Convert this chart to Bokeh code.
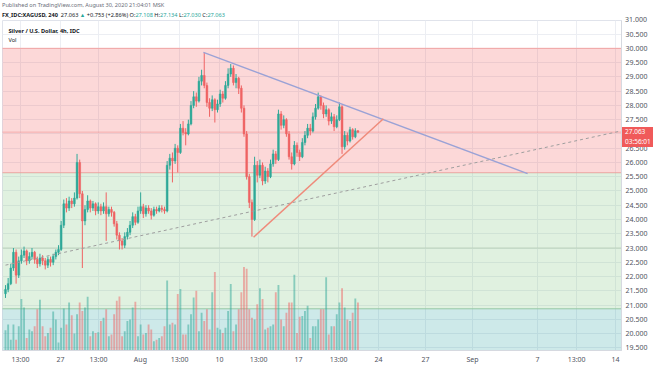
from bokeh.plotting import figure
from bokeh.models import Range1d, FixedTicker, NumeralTickFormatter, Label, ColumnDataSource, Div
from bokeh.layouts import column
from bokeh.embed import file_html
from bokeh.resources import INLINE

# ---------------- data (4h candles, XAGUSD) ----------------
first_open = 21.40
closes = [21.55, 21.75, 22.30, 22.85, 22.05, 22.55, 22.75, 22.90, 22.55, 22.70,
          22.85, 22.60, 22.45, 22.65, 22.55, 22.40, 22.60, 22.50, 22.70, 22.85,
          22.95, 23.80, 24.55, 24.40, 24.65, 24.55, 24.75, 26.00, 24.90, 23.95,
          24.35, 24.65, 24.40, 24.55, 24.30, 24.45, 24.30, 24.45, 24.20, 24.35,
          24.25, 23.85, 23.45, 23.25, 23.10, 23.40, 23.55, 23.80, 24.10, 23.90,
          24.30, 24.45, 24.20, 24.40, 24.30, 24.15, 24.35, 24.30, 24.40, 24.35,
          24.30, 25.90, 26.15, 26.05, 26.50, 26.35, 27.20, 27.05, 27.00, 27.35,
          28.00, 28.30, 28.15, 28.85, 29.05, 28.70, 28.10, 27.90, 28.20, 27.85,
          28.05, 28.40, 28.25, 28.70, 29.10, 29.30, 28.80, 28.95, 28.60, 27.90,
          27.00, 25.50, 24.60, 24.00, 25.90, 25.55, 25.90, 25.35, 25.70, 25.50,
          25.95, 26.30, 26.10, 27.70, 27.30, 27.50, 27.00, 26.20, 25.95, 26.60,
          26.35, 26.20, 26.70, 26.95, 27.20, 27.10, 27.60, 27.90, 28.30, 28.00,
          27.70, 27.85, 27.45, 27.60, 27.25, 27.50, 27.95, 26.55, 26.95, 26.75,
          27.15, 26.90, 27.108, 27.063]
highs = [21.70, 21.95, 22.45, 23.00, 22.95, 22.70, 22.95, 23.05, 22.95, 22.85,
         23.00, 22.90, 22.70, 22.80, 22.75, 22.65, 22.70, 22.70, 22.80, 22.95,
         23.10, 23.95, 24.70, 24.75, 24.80, 24.75, 24.95, 26.30, 26.10, 25.00,
         24.50, 24.85, 24.70, 24.65, 24.60, 24.60, 24.55, 24.60, 24.95, 24.45,
         24.45, 24.30, 23.95, 23.55, 23.35, 23.55, 23.70, 23.95, 24.25, 24.20,
         24.45, 24.95, 24.55, 24.50, 24.50, 24.40, 24.45, 24.45, 24.50, 24.50,
         24.45, 26.05, 26.30, 26.35, 26.65, 26.60, 27.35, 27.45, 27.20, 27.50,
         28.15, 28.50, 28.45, 29.00, 29.25, 29.85, 28.80, 28.25, 28.35, 28.25,
         28.20, 28.55, 28.50, 28.85, 29.30, 29.45, 29.40, 29.10, 29.00, 28.70,
         28.00, 27.10, 25.60, 24.70, 26.20, 26.05, 26.10, 26.00, 25.85, 25.80,
         26.10, 26.45, 26.40, 27.85, 27.80, 27.65, 27.55, 27.10, 26.35, 26.75,
         26.70, 26.45, 26.85, 27.10, 27.35, 27.35, 27.75, 28.05, 28.45, 28.35,
         28.10, 28.00, 27.90, 27.75, 27.70, 27.65, 28.10, 28.00, 27.10, 27.05,
         27.25, 27.20, 27.20, 27.134]
lows = [21.25, 21.45, 21.70, 22.20, 21.75, 21.95, 22.45, 22.65, 22.40, 22.45,
        22.60, 22.45, 22.30, 22.35, 22.40, 22.25, 22.30, 22.35, 22.40, 22.60,
        22.75, 22.90, 23.70, 24.25, 24.30, 24.40, 24.45, 24.70, 24.75, 22.30,
        23.80, 24.25, 24.25, 24.30, 24.15, 24.20, 24.15, 24.20, 23.25, 24.10,
        24.10, 23.75, 23.30, 22.95, 22.95, 23.00, 23.30, 23.45, 23.70, 23.80,
        23.85, 24.20, 24.05, 24.10, 24.20, 24.00, 24.10, 24.20, 24.25, 24.25,
        24.20, 24.25, 25.75, 25.30, 25.95, 25.65, 26.30, 26.95, 26.60, 26.95,
        27.30, 27.90, 27.95, 28.10, 28.70, 28.60, 27.95, 27.60, 27.80, 27.40,
        27.75, 27.95, 28.10, 28.20, 28.60, 29.00, 28.70, 28.60, 28.40, 27.75,
        26.90, 25.40, 24.40, 23.40, 23.95, 25.30, 25.45, 25.20, 25.25, 25.30,
        25.45, 25.85, 25.95, 26.05, 27.15, 27.20, 26.90, 26.10, 25.75, 25.90,
        26.20, 26.05, 26.15, 26.60, 26.85, 26.95, 27.05, 27.50, 27.85, 27.85,
        27.55, 27.60, 27.30, 27.35, 27.10, 27.20, 27.45, 26.30, 26.45, 26.60,
        26.70, 26.80, 26.85, 27.030]
volumes = [60, 77, 32, 77, 32, 72, 152, 127, 37, 62, 57, 72, 122, 150, 72, 42, 52, 67, 115, 92,
           24, 67, 124, 77, 142, 104, 50, 107, 142, 117, 127, 159, 42, 57, 52, 54, 87, 97, 122, 42,
           47, 107, 147, 160, 42, 57, 87, 92, 127, 144, 42, 77, 47, 52, 77, 62, 27, 32, 37, 42,
           72, 207, 77, 82, 77, 167, 182, 47, 47, 77, 107, 157, 177, 57, 112, 87, 122, 62, 172, 232,
           67, 62, 52, 67, 117, 197, 57, 77, 122, 172, 247, 242, 122, 97, 92, 137, 184, 152, 62, 67,
           72, 77, 172, 194, 92, 72, 112, 142, 142, 224, 52, 100, 102, 117, 132, 37, 72, 72, 92, 122,
           122, 217, 47, 72, 72, 107, 142, 184, 127, 92, 87, 112, 154, 142]

# x-axis tick positions (bar index) and labels
x_tick_pos = [5.66, 20.75, 35.1, 50.9, 65.7, 80.75, 95.5, 110.6, 125.7, 140.75,
              158.5, 176.2, 200.75, 215.5, 230.2]
x_tick_labels = ["13:00", "27", "13:00", "Aug", "13:00", "10", "13:00", "17", "13:00", "24",
                 "27", "Sep", "7", "13:00", "14"]
y_grid_vals = [19.5 + 0.5 * k for k in range(24)]
y_tick_vals = [v for v in y_grid_vals if abs(v - 27.0) > 1e-9]
top_tick = 31.0

# drawings (bar index, price)
desc_line_x = [74.7, 197.0]
desc_line_y = [29.86, 25.61]
asc_line_x = [93.6, 142.6]
asc_line_y = [23.38, 27.53]
dash_line_x = [0.0, 240.0]
dash_line_y = [22.40, 27.26]
red_zone = (25.64, 30.0)
green_zone = (20.87, 25.64)
vol_zone = (19.0, 20.87)
level_23 = 23.0
last_price = 27.063
countdown = "03:56:01"

# ---------------- figure ----------------
UP, DOWN = "#2fa898", "#ef6363"
TEAL = "#26a69a"
TAG = "#f05a5a"
AXIS_TXT = "#50535e"
FONT = "Noto Sans"
X0, X1 = -1.13, 232.45
Y0, Y1 = 19.408, 30.976
HEAD_H = 19
FIG_W, FIG_H = 654, 347
B_LEFT, B_RIGHT, B_TOP, B_BOTTOM = 2, 33, 1, 14

p = figure(width=FIG_W, height=FIG_H, output_backend="svg", toolbar_location=None,
           x_range=Range1d(X0, X1), y_range=Range1d(Y0, Y1),
           y_axis_location="right",
           min_border_left=B_LEFT, min_border_right=B_RIGHT,
           min_border_top=B_TOP, min_border_bottom=B_BOTTOM,
           background_fill_color="white", border_fill_color="white")
p.extra_y_ranges = {"vol": Range1d(0, 976)}
p.outline_line_color = "#e0e3eb"

# zones
p.quad(left=X0 - 5, right=X1 + 5, bottom=red_zone[0], top=red_zone[1],
       fill_color="#f03c3c", fill_alpha=0.2, line_color="#f2a3a3", line_width=1)
p.quad(left=X0 - 5, right=X1 + 5, bottom=green_zone[0], top=green_zone[1],
       fill_color="#64b964", fill_alpha=0.2, line_color=None)
p.quad(left=X0 - 5, right=X1 + 5, bottom=vol_zone[0], top=vol_zone[1],
       fill_color="#059191", fill_alpha=0.2, line_color=None)
p.segment(x0=[X0 - 5, X0 - 5], y0=[level_23, green_zone[0]],
          x1=[X1 + 5, X1 + 5], y1=[level_23, green_zone[0]],
          line_color=["#bcd2bc", "#96c8a4"], line_width=1)

# volume
n = len(closes)
xs = list(range(n))
opens = [first_open] + closes[:-1]
colors = [UP if c >= o else DOWN for o, c in zip(opens, closes)]
vsrc = ColumnDataSource(dict(x=xs, v=volumes, c=colors))
p.vbar(x="x", top="v", bottom=0, width=0.7, source=vsrc, y_range_name="vol",
       fill_color="c", line_color=None, fill_alpha=0.5)

# last price line
p.segment(x0=[X0 - 5], y0=[last_price], x1=[X1 + 5], y1=[last_price],
          line_color="#f08a8a", line_width=0.8, line_alpha=0.7)

# candles
src = ColumnDataSource(dict(x=xs, o=opens, c=closes, h=highs, l=lows, col=colors,
                            top=[max(a, b) for a, b in zip(opens, closes)],
                            bot=[min(a, b) for a, b in zip(opens, closes)]))
p.segment(x0="x", y0="h", x1="x", y1="l", color="col", line_width=1, source=src)
p.vbar(x="x", top="top", bottom="bot", width=0.68, fill_color="col", line_color="col",
       line_width=0.5, source=src)

# drawings
p.line(dash_line_x, dash_line_y, line_color="#9e9e9e", line_width=1, line_dash="3 3")
p.line(desc_line_x, desc_line_y, line_color="#9aa2d6", line_width=1.3)
p.line(asc_line_x, asc_line_y, line_color="#ef8a7a", line_width=1.5)

# axes
p.xaxis.ticker = FixedTicker(ticks=x_tick_pos)
p.xaxis.major_label_overrides = {k: v for k, v in zip(x_tick_pos, x_tick_labels)}
p.yaxis.ticker = FixedTicker(ticks=y_tick_vals)
p.yaxis.formatter = NumeralTickFormatter(format="0.000")
for ax in (p.xaxis[0], p.yaxis[0]):
    ax.major_label_text_font = FONT
    ax.major_label_text_font_size = "7px"
    ax.major_label_text_color = AXIS_TXT
    ax.axis_line_color = "#d6d9e0"
    ax.major_tick_line_color = None
    ax.minor_tick_line_color = None
    ax.major_tick_out = 0
    ax.major_tick_in = 0
    ax.minor_tick_out = 0
    ax.major_label_standoff = 4
p.xgrid.ticker = FixedTicker(ticks=x_tick_pos)
p.ygrid.ticker = FixedTicker(ticks=y_grid_vals)
p.xgrid.grid_line_color = "#eceef3"
p.ygrid.grid_line_color = "#eceef3"


def bx(ref_x):
    return (ref_x - 5) / 2.65


def py(ref_y):
    return 30 - (ref_y - 48) / 28.7


for ry, txt in [(31, "Silver / U.S. Dollar, 4h, IDC"), (40, "Vol")]:
    p.add_layout(Label(x=bx(8), y=py(ry), text=txt, text_font=FONT, text_font_size="5.6px",
                       text_color="#131722", text_baseline="middle", text_align="left",
                       text_font_style="bold" if txt != "Vol" else "normal"))

# positions (page px) of the overlay items on the price scale
px_per_unit = (FIG_H - B_TOP - B_BOTTOM) / (Y1 - Y0)
axis_left = FIG_W - B_RIGHT
tag_top = HEAD_H + B_TOP + (Y1 - last_price) * px_per_unit - 5
top_tick_y = HEAD_H + B_TOP + (Y1 - top_tick) * px_per_unit - 4.5

# header + overlays
val = lambda s: f"<span style='color:{TEAL}'>{s}</span>"
header_html = (
    f"<div style=\"font-family:'{FONT}';font-size:5.6px;line-height:10px;white-space:nowrap;"
    "padding-left:2px;color:#131722\">"
    "<div style='color:#6a6d78'>Published on TradingView.com, August 30, 2020 21:04:01 MSK</div>"
    "<div><b>FX_IDC:XAGUSD, 240</b>&nbsp; 27.063 " + val("▲") + " +0.753 (+2.86%) "
    "O:" + val("27.108") + " H:" + val("27.134") + " L:" + val("27.030") +
    " C:" + val("27.063") + "</div></div>"
    f"<div style=\"position:absolute;left:{axis_left + 1}px;top:{tag_top:.1f}px;z-index:50;"
    f"background:{TAG};color:white;font-family:'{FONT}';font-size:6.5px;line-height:10px;"
    f"padding:0 2px 0 3px;white-space:nowrap\">{last_price:.3f}<br>{countdown}</div>"
    f"<div style=\"position:absolute;left:{axis_left + 4}px;top:{top_tick_y:.1f}px;z-index:40;"
    f"color:{AXIS_TXT};font-family:'{FONT}';font-size:7px;line-height:9px;"
    f"white-space:nowrap\">{top_tick:.3f}</div>"
)
header = Div(text=header_html, width=FIG_W, height=HEAD_H, margin=(0, 0, 0, 0))

layout = column(header, p, spacing=0, margin=(0, 0, 0, 0))
open("out.html", "w").write(file_html(layout, INLINE))
